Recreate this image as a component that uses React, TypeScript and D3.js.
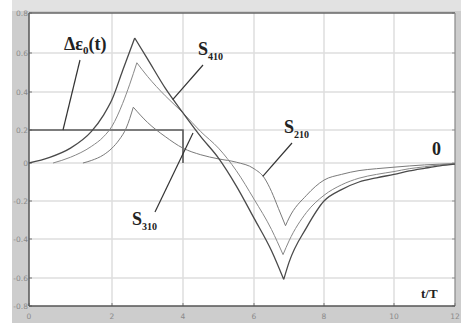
import React from "react";
import * as d3 from "d3";

type Pt = [number, number];

// Axis ticks
const xTicks = [0, 2, 4, 6, 8, 10, 12];
const yTicks = [0.8, 0.6, 0.4, 0.2, 0, -0.2, -0.4, -0.6, -0.8];

// Input strain pulse Δε0(t)
const pulse: Pt[] = [[0, 0.2], [4, 0.2], [4, 0]];

// Responses (t/T, value)
const s410: Pt[] = [
  [0, 0], [0.5, 0.034], [1, 0.09], [1.5, 0.19], [1.8, 0.28], [2.0, 0.36], [2.3, 0.51], [2.64, 0.675],
  [3.0, 0.57], [3.5, 0.42], [4.0, 0.29], [4.5, 0.16], [5.0, 0.03], [5.5, -0.12], [6.0, -0.29], [6.5, -0.46], [6.85, -0.61],
  [7.0, -0.52], [7.5, -0.34], [8.0, -0.2], [8.5, -0.14], [9.0, -0.1], [9.5, -0.078], [10.0, -0.06], [10.5, -0.042], [11.0, -0.028], [11.5, -0.015], [12.0, -0.006],
];
const s310: Pt[] = [
  [0.58, 0], [1.0, 0.035], [1.5, 0.1], [1.8, 0.16], [2.0, 0.22], [2.3, 0.34], [2.5, 0.44], [2.7, 0.55],
  [3.0, 0.48], [3.5, 0.38], [4.0, 0.29], [4.5, 0.19], [5.0, 0.09], [5.5, -0.04], [6.0, -0.19], [6.5, -0.35], [6.83, -0.48],
  [7.0, -0.41], [7.5, -0.26], [8.0, -0.17], [8.5, -0.115], [9.0, -0.08], [9.5, -0.06], [10.0, -0.045], [10.5, -0.03], [11.0, -0.02], [11.5, -0.01], [12.0, -0.004],
];
const s210: Pt[] = [
  [1.3, 0], [1.5, 0.015], [1.8, 0.05], [2.0, 0.09], [2.2, 0.14], [2.4, 0.21], [2.6, 0.32],
  [3.0, 0.24], [3.5, 0.16], [4.0, 0.09], [4.5, 0.05], [5.0, 0.025], [5.5, 0.005], [6.0, -0.03], [6.3, -0.08], [6.5, -0.15], [6.7, -0.24], [6.9, -0.33],
  [7.0, -0.29], [7.5, -0.17], [8.0, -0.09], [8.5, -0.06], [9.0, -0.04], [9.5, -0.03], [10.0, -0.022], [11.0, -0.01], [12.0, -0.003],
];

const W = 461;
const H = 323;

const x = d3.scaleLinear().domain(xTicks).range([29, 112, 183, 254, 324, 394, 455]);
const y = d3.scaleLinear().domain(yTicks).range([13, 53, 92, 130, 163, 201, 239, 278, 306]);

const left = x(0);
const right = x(12);
const top = y(0.8);
const bottom = y(-0.8);

// Split a series at its turning points so each monotone piece keeps a sharp cusp
function pieces(pts: Pt[]): Pt[][] {
  const out: Pt[][] = [];
  let cur: Pt[] = [pts[0]];
  for (let i = 1; i < pts.length; i++) {
    cur.push(pts[i]);
    if (i < pts.length - 1) {
      const a = pts[i][1] - pts[i - 1][1];
      const b = pts[i + 1][1] - pts[i][1];
      if (a * b < 0) {
        out.push(cur);
        cur = [pts[i]];
      }
    }
  }
  out.push(cur);
  return out;
}

const smooth = d3
  .line<Pt>()
  .x((d) => x(d[0]))
  .y((d) => y(d[1]))
  .curve(d3.curveMonotoneX);

const straight = d3
  .line<Pt>()
  .x((d) => x(d[0]))
  .y((d) => y(d[1]));

function curvePath(pts: Pt[]): string {
  return pieces(pts).map((p) => smooth(p) as string).join("");
}

const serif = "'Liberation Serif', 'Times New Roman', serif";
const sans = "'DejaVu Sans', Arial, sans-serif";

export default function App() {
  return (
    <svg
      width={W}
      height={H}
      style={{ position: "absolute", left: 0, top: 0, background: "#fff" }}
    >
      <defs>
        <clipPath id="frame">
          <rect x={12} y={0} width={W - 12} height={H} />
        </clipPath>
      </defs>
      {/* figure frame */}
      <rect x={12} y={0} width={W - 12} height={H} fill="#cdcdcd" />
      <rect x={12} y={0} width={W - 12} height={11} fill="#e2e2e2" />
      <rect x={left} y={top} width={right - left} height={bottom - top} fill="#fff" />

      {/* grid */}
      {xTicks.slice(1, -1).map((t) => (
        <line key={"gx" + t} x1={x(t)} x2={x(t)} y1={top} y2={bottom} stroke="#dedede" strokeWidth={1.5} />
      ))}
      {yTicks.slice(1, -1).map((t) => (
        <line key={"gy" + t} x1={left} x2={right} y1={y(t)} y2={y(t)} stroke="#dedede" strokeWidth={1.5} />
      ))}

      {/* tick marks */}
      {yTicks.map((t) => (
        <g key={"ty" + t}>
          <line x1={left} x2={left + 3} y1={y(t)} y2={y(t)} stroke="#777" />
          <line x1={right - 3} x2={right} y1={y(t)} y2={y(t)} stroke="#999" />
        </g>
      ))}
      {xTicks.map((t) => (
        <line key={"tx" + t} x1={x(t)} x2={x(t)} y1={bottom} y2={bottom - 3} stroke="#777" />
      ))}

      {/* plot border */}
      <line x1={left} x2={right} y1={top} y2={top} stroke="#666" strokeWidth={1.5} />
      <line x1={right} x2={right} y1={top} y2={bottom} stroke="#888" strokeWidth={1.2} />
      <line x1={left} x2={left} y1={top} y2={bottom} stroke="#555" strokeWidth={1.5} />
      <line x1={left} x2={right} y1={bottom} y2={bottom} stroke="#555" strokeWidth={1.5} />

      {/* tick labels */}
      <g clipPath="url(#frame)" fontFamily={sans} fontSize={7.5} fill="#8a8a8a">
        {yTicks.map((t) => (
          <text key={"ly" + t} x={left - 1} y={y(t) + 2.5} textAnchor="end">
            {t === 0 ? "0" : t.toFixed(1)}
          </text>
        ))}
        {xTicks.map((t) => (
          <text key={"lx" + t} x={x(t)} y={bottom + 13} textAnchor="middle">
            {t}
          </text>
        ))}
      </g>

      {/* series */}
      <path d={straight(pulse) as string} fill="none" stroke="#5a5a5a" strokeWidth={1.6} />
      <path d={curvePath(s210)} fill="none" stroke="#7a7a7a" strokeWidth={1} />
      <path d={curvePath(s310)} fill="none" stroke="#888" strokeWidth={1} />
      <path d={curvePath(s410)} fill="none" stroke="#4a4a4a" strokeWidth={1.3} />

      {/* annotation leaders */}
      <g stroke="#333" strokeWidth={1.2}>
        <line x1={80} y1={60} x2={63} y2={y(0.2)} />
        <line x1={203} y1={65} x2={x(3.71)} y2={y(0.36)} />
        <line x1={155} y1={212} x2={193} y2={133} />
        <line x1={292} y1={143} x2={x(6.25)} y2={y(-0.07)} />
      </g>

      {/* annotations */}
      <g fontFamily={serif} fontWeight="bold" fill="#222">
        <text x={64} y={50} fontSize={18}>
          Δε<tspan fontSize={11} dy={4}>0</tspan>
          <tspan dy={-4}>(t)</tspan>
        </text>
        <text x={198} y={55} fontSize={18}>
          S<tspan fontSize={10} dy={5}>410</tspan>
        </text>
        <text x={132} y={225} fontSize={18}>
          S<tspan fontSize={10} dy={5}>310</tspan>
        </text>
        <text x={284} y={133} fontSize={18}>
          S<tspan fontSize={10} dy={5}>210</tspan>
        </text>
        <text x={432} y={155} fontSize={18}>0</text>
        <text x={421} y={298} fontSize={13}>t/T</text>
      </g>
    </svg>
  );
}
